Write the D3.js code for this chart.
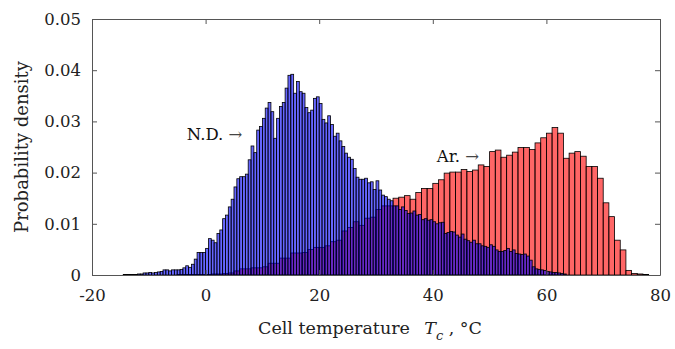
<!DOCTYPE html>
<html lang="en">
<head>
<meta charset="UTF-8">
<title>Cell temperature histogram</title>
<script src="https://d3js.org/d3.v7.min.js"></script>
<style>
  body { margin: 0; background: #fff; }
  svg { font-family: "DejaVu Serif", serif; }
  .axis text { font-size: 16.5px; fill: #222; font-family: "DejaVu Serif", serif; }
  .axis path, .axis line { stroke: #555; }
</style>
</head>
<body>
<svg id="chart" width="675" height="349"></svg>
<script>
// N.D. histogram: 0.5 degC bins starting at -14.5
const ndStart = -14.5, ndWidth = 0.5;
const ndDensity = [
  0.0001, 0.0001, 0.0001, 0.0001, 0.0001, 0.0002, 0.0002, 0.0004, 0.0004, 0.0005,
  0.0004, 0.0005, 0.0006, 0.0007, 0.0010, 0.0010, 0.0008, 0.0010, 0.0010, 0.0010,
  0.0011, 0.0014, 0.0018, 0.0015, 0.0021, 0.0031, 0.0044, 0.0044, 0.0044, 0.0052,
  0.0071, 0.0068, 0.0063, 0.0081, 0.0088, 0.0110, 0.0117, 0.0133, 0.0148, 0.0172,
  0.0188, 0.0192, 0.0192, 0.0197, 0.0225, 0.0252, 0.0239, 0.0283, 0.0290, 0.0306,
  0.0326, 0.0337, 0.0319, 0.0267, 0.0306, 0.0329, 0.0337, 0.0365, 0.0390, 0.0392,
  0.0355, 0.0378, 0.0358, 0.0355, 0.0327, 0.0317, 0.0322, 0.0345, 0.0348, 0.0335,
  0.0304, 0.0297, 0.0311, 0.0294, 0.0271, 0.0277, 0.0262, 0.0251, 0.0238, 0.0230,
  0.0226, 0.0208, 0.0191, 0.0187, 0.0187, 0.0189, 0.0180, 0.0182, 0.0167, 0.0184,
  0.0166, 0.0156, 0.0153, 0.0148, 0.0145, 0.0135, 0.0135, 0.0128, 0.0133, 0.0126,
  0.0120, 0.0121, 0.0125, 0.0117, 0.0118, 0.0108, 0.0110, 0.0107, 0.0108, 0.0104,
  0.0100, 0.0102, 0.0103, 0.0081, 0.0083, 0.0085, 0.0084, 0.0078, 0.0074, 0.0080,
  0.0070, 0.0067, 0.0064, 0.0068, 0.0061, 0.0061, 0.0057, 0.0056, 0.0054, 0.0059,
  0.0056, 0.0049, 0.0046, 0.0046, 0.0048, 0.0052, 0.0046, 0.0049, 0.0042, 0.0041,
  0.0040, 0.0041, 0.0037, 0.0029, 0.0016, 0.0012, 0.0011, 0.0010, 0.0009, 0.0007,
  0.0006, 0.0005, 0.0005, 0.0004, 0.0003, 0.0002
];

// Ar. histogram: 1 degC bins starting at -5
const arStart = -5, arWidth = 1;
const arDensity = [
  0.0001, 0.0001, 0.0001, 0.0001, 0.0001, 0.0001, 0.0002, 0.0002, 0.0003, 0.0004,
  0.0008, 0.0012, 0.0012, 0.0014, 0.0014, 0.0016, 0.0023, 0.0023, 0.0033, 0.0033,
  0.0043, 0.0043, 0.0044, 0.0050, 0.0054, 0.0054, 0.0057, 0.0065, 0.0068, 0.0086,
  0.0093, 0.0104, 0.0097, 0.0111, 0.0113, 0.0128, 0.0135, 0.0135, 0.0150, 0.0152,
  0.0155, 0.0148, 0.0161, 0.0169, 0.0169, 0.0179, 0.0186, 0.0199, 0.0201, 0.0201,
  0.0206, 0.0202, 0.0205, 0.0215, 0.0212, 0.0241, 0.0244, 0.0230, 0.0234, 0.0240,
  0.0249, 0.0249, 0.0245, 0.0258, 0.0268, 0.0277, 0.0288, 0.0277, 0.0228, 0.0238,
  0.0241, 0.0232, 0.0212, 0.0212, 0.0189, 0.0141, 0.0114, 0.0068, 0.0049, 0.0009,
  0.0003, 0.0002, 0.0001
];

const xTicks = [-20, 0, 20, 40, 60, 80];
const yTicks = [0, 0.01, 0.02, 0.03, 0.04, 0.05];

const margin = { top: 19, right: 15, bottom: 74, left: 92 };
const width = 675 - margin.left - margin.right,
      height = 349 - margin.top - margin.bottom;

const svg = d3.select('#chart');
const g = svg.append('g').attr('transform', `translate(${margin.left},${margin.top})`);

const x = d3.scaleLinear().domain([-20, 80]).range([0, width]);
const y = d3.scaleLinear().domain([0, 0.05]).range([height, 0]);

function bins(start, w, values) {
  return values.map(function (v, i) {
    return { x0: start + i * w, x1: start + (i + 1) * w, v: v };
  });
}

function drawHist(data, color) {
  g.append('g')
    .selectAll('rect')
    .data(data)
    .join('rect')
    .attr('x', d => x(d.x0))
    .attr('width', d => x(d.x1) - x(d.x0))
    .attr('y', d => y(d.v))
    .attr('height', d => y(0) - y(d.v))
    .attr('fill', color)
    .attr('fill-opacity', 0.6)
    .attr('stroke', '#000')
    .attr('stroke-width', 0.8);
}

drawHist(bins(arStart, arWidth, arDensity), '#ff0000');
drawHist(bins(ndStart, ndWidth, ndDensity), '#0000ff');

// axes, ticks pointing inward
g.append('g').attr('class', 'axis')
  .attr('transform', `translate(0,${height})`)
  .call(d3.axisBottom(x).tickValues(xTicks).tickSizeInner(-5).tickSizeOuter(0).tickPadding(14)
    .tickFormat(d => String(d)));
g.append('g').attr('class', 'axis')
  .call(d3.axisTop(x).tickValues(xTicks).tickSizeInner(-5).tickSizeOuter(0).tickFormat(''));
g.append('g').attr('class', 'axis')
  .call(d3.axisLeft(y).tickValues(yTicks).tickSizeInner(-5).tickSizeOuter(0).tickPadding(11)
    .tickFormat(d => d === 0 ? '0' : d3.format('.2f')(d)));
g.append('g').attr('class', 'axis')
  .attr('transform', `translate(${width},0)`)
  .call(d3.axisRight(y).tickValues(yTicks).tickSizeInner(-5).tickSizeOuter(0).tickFormat(''));

// labels
svg.append('text')
  .attr('transform', `translate(28,${margin.top + height / 2}) rotate(-90)`)
  .attr('text-anchor', 'middle')
  .attr('font-size', 18)
  .attr('fill', '#222')
  .text('Probability density');

const xl = svg.append('text')
  .attr('x', 258).attr('y', 334)
  .attr('font-size', 17.5)
  .attr('fill', '#222');
xl.append('tspan').text('Cell temperature\u2002 ');
xl.append('tspan').attr('font-style', 'italic').text('T');
xl.append('tspan').attr('font-style', 'italic').attr('font-size', 13).attr('dy', 6).text('c');
xl.append('tspan').attr('dy', -6).text(' , \u00b0C');

// annotations
function note(t0, ty, label) {
  const t = svg.append('text').attr('x', margin.left + x(t0)).attr('y', ty)
    .attr('font-size', 16.5).attr('fill', '#111');
  t.append('tspan').text(label + ' ');
  t.append('tspan').attr('fill', '#444').text('\u2192');
}
note(-3.3, 140, 'N.D.');
note(40.7, 162, 'Ar.');
</script>
</body>
</html>
